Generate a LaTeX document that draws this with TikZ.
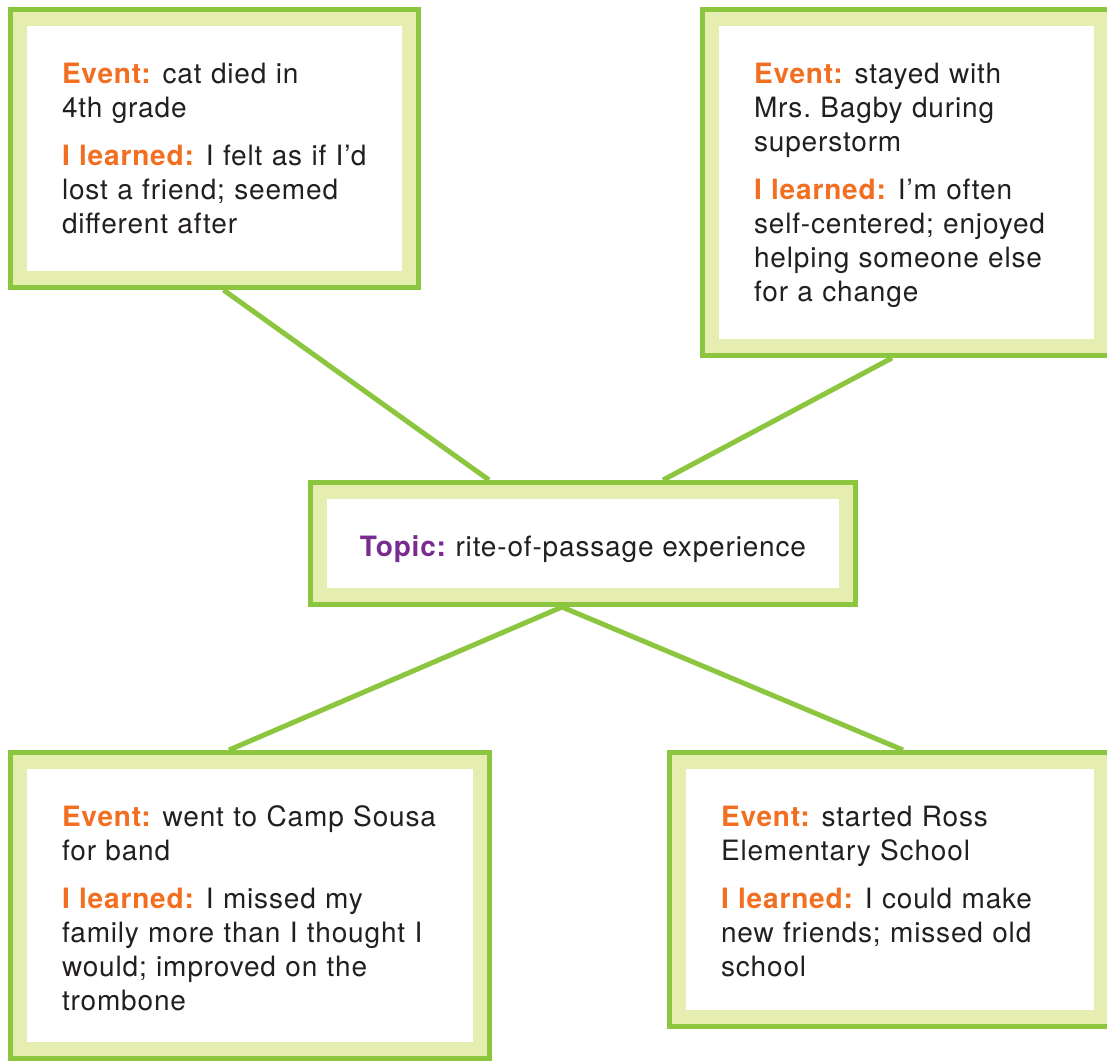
\documentclass[tikz,border=0pt]{standalone}
\usepackage{fontspec}
\setmainfont{TeX Gyre Heros}[LetterSpace=3]
\usepackage{tikz}
\usetikzlibrary{backgrounds}

\definecolor{framegreen}{HTML}{8CC63F}
\definecolor{bandgreen}{HTML}{E6EDB0}
\definecolor{eventorange}{HTML}{F26F21}
\definecolor{topicpurple}{HTML}{7A2B8F}
\definecolor{textdark}{HTML}{231F20}

\newcommand{\eventlabel}[1]{{\color{eventorange}\bfseries #1}\hspace{-2pt}}
\newcommand{\topiclabel}[1]{{\color{topicpurple}\bfseries #1}\hspace{-2pt}}

\tikzstyle{eventbox} = [rectangle, draw=framegreen, line width=5pt, fill=bandgreen, inner sep=0pt, align=left, text height=69pt, text=textdark, font=\fontsize{28}{34}\selectfont, path picture={\fill[white] ([xshift=16.5pt,yshift=-16.5pt]path picture bounding box.north west) rectangle ([xshift=-16.5pt,yshift=16.5pt]path picture bounding box.south east);}]
\tikzstyle{topicbox} = [eventbox, align=center, text height=25pt, text depth=0pt]
\tikzstyle{link} = [draw=framegreen, line width=5pt]

\begin{document}
\begin{tikzpicture}[x=1pt, y=1pt, node distance=360pt]
    \useasboundingbox (0,0) rectangle (1107,-1061);
    \node (topic) [topicbox, minimum width=545pt, minimum height=122pt] at (583,-543.5) {\topiclabel{Topic:} rite-of-passage experience};
    \node (cat) [eventbox, above of=topic, xshift=-368.5pt, yshift=35pt, minimum width=408pt, minimum height=278pt, text width=305pt, text depth=199pt] {\eventlabel{Event:} cat died in\\4th grade\\[14pt]\eventlabel{I learned:} I felt as if I’d\\lost a friend; seemed\\different after};
    \node (storm) [eventbox, above of=topic, xshift=323.5pt, yshift=1pt, minimum width=408pt, minimum height=346pt, text width=305pt, text depth=267pt] {\eventlabel{Event:} stayed with\\Mrs.\ Bagby during\\superstorm\\[14pt]\eventlabel{I learned:} I’m often\\self-centered; enjoyed\\helping someone else\\for a change};
    \node (camp) [eventbox, below of=topic, xshift=-333pt, yshift=-2pt, minimum width=479pt, minimum height=306pt, text width=376pt, text depth=227pt] {\eventlabel{Event:} went to Camp Sousa\\for band\\[14pt]\eventlabel{I learned:} I missed my\\family more than I thought I\\would; improved on the\\trombone};
    \node (school) [eventbox, below of=topic, xshift=307pt, yshift=14pt, minimum width=441pt, minimum height=274pt, text width=338pt, text depth=195pt] {\eventlabel{Event:} started Ross\\Elementary School\\[14pt]\eventlabel{I learned:} I could make\\new friends; missed old\\school};
    % connectors behind the boxes
    \begin{scope}[on background layer]
    \draw [link] ([xshift=9pt]cat.south) -- ([xshift=-94pt]topic.north);
    \draw [link] ([xshift=-14.5pt]storm.south) -- ([xshift=80pt]topic.north);
    \draw [link] ([xshift=-21pt]topic.south) -- ([xshift=-21pt]camp.north);
    \draw [link] ([xshift=-21pt]topic.south) -- ([xshift=13pt]school.north);
    \end{scope}
\end{tikzpicture}
\end{document}
